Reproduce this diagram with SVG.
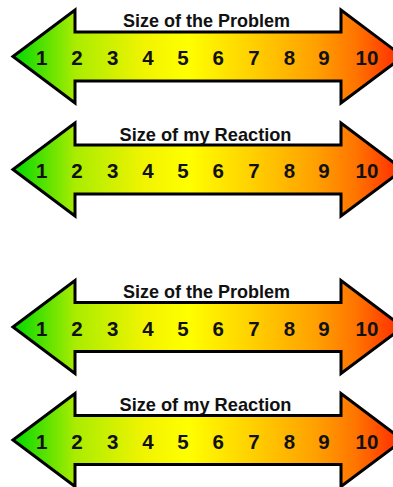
<svg xmlns="http://www.w3.org/2000/svg" xmlns:xlink="http://www.w3.org/1999/xlink" width="393" height="487" viewBox="0 0 393 487">
  <defs>
    <!-- green → yellow → red scale running along the arrow -->
    <linearGradient id="scale" gradientUnits="userSpaceOnUse" x1="13" y1="0" x2="403" y2="0">
      <stop offset="0" stop-color="#00d800"/>
      <stop offset="0.16" stop-color="#aaec00"/>
      <stop offset="0.34" stop-color="#f2f400"/>
      <stop offset="0.45" stop-color="#ffff00"/>
      <stop offset="0.6" stop-color="#ffd400"/>
      <stop offset="0.78" stop-color="#ff9f00"/>
      <stop offset="0.88" stop-color="#ff7400"/>
      <stop offset="1" stop-color="#ff2800"/>
    </linearGradient>
    <!-- double-headed arrow, centred on y = 0 -->
    <path id="arrow" d="M13,0 L75,-46.5 L75,-24.5 L341,-24.5 L341,-46.5 L403,0 L341,46.5 L341,24.5 L75,24.5 L75,46.5 Z"/>
  </defs>
  <style>
    .shape { fill: url(#scale); stroke: #000; stroke-width: 3; stroke-linejoin: miter; }
    .title { font-family: "Liberation Sans", Arial, sans-serif; font-weight: bold; font-size: 19px; fill: #111; text-anchor: middle; }
    .num { font-family: "Liberation Sans", Arial, sans-serif; font-weight: bold; font-size: 20.5px; fill: #111; text-anchor: middle; }
  </style>

  <g id="problem-scale-1" transform="translate(0,56.5)">
    <use xlink:href="#arrow" href="#arrow" class="shape"/>
    <text class="title" x="206.5" y="-29.5" textLength="167" lengthAdjust="spacingAndGlyphs">Size of the Problem</text>
    <g class="num">
      <text x="41.7" y="8.5">1</text>
      <text x="77" y="8.5">2</text>
      <text x="112.7" y="8.5">3</text>
      <text x="148" y="8.5">4</text>
      <text x="183" y="8.5">5</text>
      <text x="218.3" y="8.5">6</text>
      <text x="254" y="8.5">7</text>
      <text x="289.5" y="8.5">8</text>
      <text x="324" y="8.5">9</text>
      <text x="367" y="8.5">10</text>
    </g>
  </g>

  <g id="reaction-scale-1" transform="translate(0,169.5)">
    <use xlink:href="#arrow" href="#arrow" class="shape"/>
    <text class="title" x="205.5" y="-28.5" textLength="172" lengthAdjust="spacingAndGlyphs">Size of my Reaction</text>
    <g class="num">
      <text x="41.7" y="8.5">1</text>
      <text x="77" y="8.5">2</text>
      <text x="112.7" y="8.5">3</text>
      <text x="148" y="8.5">4</text>
      <text x="183" y="8.5">5</text>
      <text x="218.3" y="8.5">6</text>
      <text x="254" y="8.5">7</text>
      <text x="289.5" y="8.5">8</text>
      <text x="324" y="8.5">9</text>
      <text x="367" y="8.5">10</text>
    </g>
  </g>

  <g id="problem-scale-2" transform="translate(0,327)">
    <use xlink:href="#arrow" href="#arrow" class="shape"/>
    <text class="title" x="206.5" y="-29.5" textLength="167" lengthAdjust="spacingAndGlyphs">Size of the Problem</text>
    <g class="num">
      <text x="41.7" y="8.5">1</text>
      <text x="77" y="8.5">2</text>
      <text x="112.7" y="8.5">3</text>
      <text x="148" y="8.5">4</text>
      <text x="183" y="8.5">5</text>
      <text x="218.3" y="8.5">6</text>
      <text x="254" y="8.5">7</text>
      <text x="289.5" y="8.5">8</text>
      <text x="324" y="8.5">9</text>
      <text x="367" y="8.5">10</text>
    </g>
  </g>

  <g id="reaction-scale-2" transform="translate(0,440)">
    <use xlink:href="#arrow" href="#arrow" class="shape"/>
    <text class="title" x="205.5" y="-29.5" textLength="172" lengthAdjust="spacingAndGlyphs">Size of my Reaction</text>
    <g class="num">
      <text x="41.7" y="8.5">1</text>
      <text x="77" y="8.5">2</text>
      <text x="112.7" y="8.5">3</text>
      <text x="148" y="8.5">4</text>
      <text x="183" y="8.5">5</text>
      <text x="218.3" y="8.5">6</text>
      <text x="254" y="8.5">7</text>
      <text x="289.5" y="8.5">8</text>
      <text x="324" y="8.5">9</text>
      <text x="367" y="8.5">10</text>
    </g>
  </g>
</svg>
